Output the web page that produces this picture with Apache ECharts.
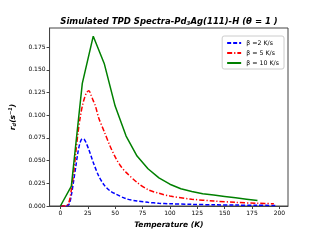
<!DOCTYPE html>
<html><head><meta charset="utf-8">
<script src="https://cdn.jsdelivr.net/npm/echarts@6/dist/echarts.min.js"></script>
<style>html,body{margin:0;padding:0;background:#fff}#c{width:320px;height:240px}</style>
</head><body><div id="c"></div>
<script>
var seriesNames = ['\u03b2 =2 K/s', '\u03b2 = 5 K/s', '\u03b2 = 10 K/s'];
var blueT = [0,5,8,10,12,14,16,18,20,22,24,26,28,30,35,40,45,50,60,70,80,90,100,120,140,160,180,198];
var blueV = [0,0,0.002,0.012,0.027,0.043,0.059,0.070,0.074,0.073,0.068,0.062,0.055,0.048,0.033,0.023,0.017,0.0135,0.008,0.0055,0.004,0.003,0.0025,0.0018,0.0013,0.001,0.0008,0.0006];
var redT = [0,5,8,10,12,14,16,18,20,22,24,26,28,30,32,35,40,45,50,55,60,70,80,90,100,120,140,160,180,195];
var redV = [0,0,0.005,0.018,0.035,0.058,0.080,0.097,0.110,0.119,0.125,0.127,0.122,0.116,0.110,0.097,0.082,0.067,0.054,0.044,0.037,0.026,0.018,0.014,0.011,0.0075,0.0055,0.004,0.003,0.0025];
var greenT = [0,10,20,30,40,50,60,70,80,90,100,110,120,130,140,150,160,170,180];
var greenV = [0,0.022,0.135,0.187,0.157,0.110,0.077,0.055,0.041,0.031,0.024,0.019,0.016,0.0135,0.012,0.0105,0.009,0.0075,0.006];
var xTicks = [0,25,50,75,100,125,150,175,200];
var yTicks = [0,0.025,0.05,0.075,0.1,0.125,0.15,0.175];

function pairs(t, v){ return t.map(function(x,i){return [x, v[i]];}); }
var chart = echarts.init(document.getElementById('c'));
var fam = 'DejaVu Sans';
chart.setOption({
  animation: false,
  textStyle: {fontFamily: fam},
  title: {
    text: '{a|Simulated TPD Spectra-Pd}{s|3}{a|Ag(111)-H (\u03b8 = 1 )}',
    left: 164, top: 11, textAlign: 'center',
    textStyle: {rich: {
      a: {fontFamily: fam, fontSize: 8.5, fontWeight: 'bold', fontStyle: 'italic', color: '#000'},
      s: {fontFamily: fam, fontSize: 5.5, fontWeight: 'bold', fontStyle: 'italic', color: '#000', padding: [5,0,0,0]}
    }}
  },
  legend: {
    right: 36, top: 36, orient: 'vertical', itemWidth: 14, itemHeight: 6, itemGap: 4,
    padding: [4,5,3,4],
    backgroundColor: '#fff', borderColor: '#ccc', borderWidth: 1, borderRadius: 2,
    textStyle: {fontSize: 6.3, color: '#000', fontFamily: fam},
    itemStyle: {opacity: 0},
    data: seriesNames
  },
  grid: {left: 40, right: 32, top: 28, bottom: 34, show: true, borderColor: '#444', borderWidth: 1},
  xAxis: {
    type: 'value', min: -9.9, max: 207.9,
    name: 'Temperature (K)', nameLocation: 'middle', nameGap: 15,
    nameTextStyle: {fontSize: 7.5, fontWeight: 'bold', fontStyle: 'italic', color: '#000'},
    axisLine: {show: true, onZero: false, lineStyle: {color: '#444'}},
    axisTick: {show: true, length: 3, customValues: xTicks, lineStyle: {color: '#444'}},
    axisLabel: {fontSize: 6, color: '#000', margin: 4, customValues: xTicks},
    splitLine: {show: false}
  },
  yAxis: {
    type: 'value', min: 0, max: 0.196,
    name: '{a|r}{s|d}{a|(s}{p|\u22121}{a|)}', nameLocation: 'middle', nameGap: 20, nameRotate: 90,
    nameTextStyle: {rich: {
      a: {fontSize: 7.5, fontWeight: 'bold', fontStyle: 'italic', color: '#000', fontFamily: fam},
      s: {fontSize: 5, fontWeight: 'bold', fontStyle: 'italic', color: '#000', fontFamily: fam, padding: [4,0,0,0]},
      p: {fontSize: 5, fontWeight: 'bold', fontStyle: 'italic', color: '#000', fontFamily: fam, padding: [0,0,5,0]}
    }},
    axisLine: {show: true, onZero: false, lineStyle: {color: '#444'}},
    axisTick: {show: true, length: 3, customValues: yTicks, lineStyle: {color: '#444'}},
    axisLabel: {fontSize: 6, color: '#000', margin: 4, customValues: yTicks,
      formatter: function(v){return v.toFixed(3);}},
    splitLine: {show: false}
  },
  series: [
    {name: seriesNames[0], type: 'line', data: pairs(blueT, blueV), symbol: 'none', smooth: 0.3,
     color: '#0000ff', lineStyle: {width: 1.5, type: [4,2]}},
    {name: seriesNames[1], type: 'line', data: pairs(redT, redV), symbol: 'none', smooth: 0.3,
     color: '#ff0000', lineStyle: {width: 1.5, type: [5,2,1.2,2]}},
    {name: seriesNames[2], type: 'line', data: pairs(greenT, greenV), symbol: 'none',
     color: '#008000', lineStyle: {width: 1.5}}
  ]
});
</script></body></html>
